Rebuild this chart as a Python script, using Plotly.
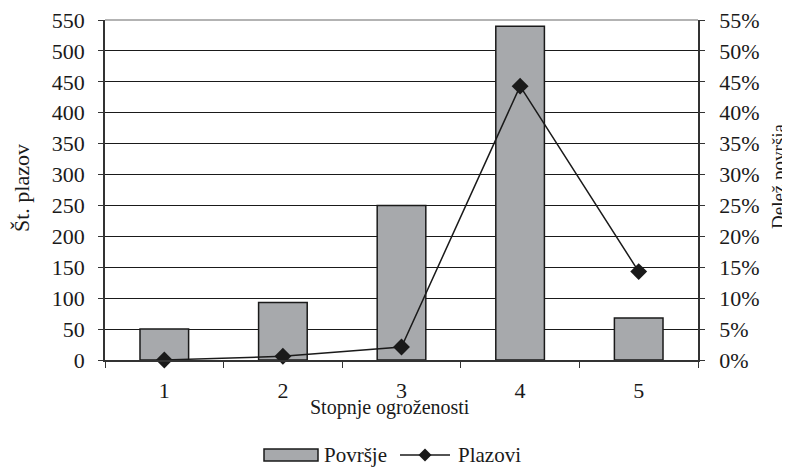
import plotly.graph_objects as go

categories = ["1", "2", "3", "4", "5"]
povrsje = [50, 93, 250, 540, 68]
plazovi = [0.0, 0.006, 0.021, 0.443, 0.143]
left_ticks = list(range(0, 551, 50))
right_ticks = [v / 100 for v in range(0, 56, 5)]

FONT = "Liberation Serif"
INK = "#1a1a1a"
BAR = "#A7A9AC"
OFF = 8  # the page body has an 8px margin; work in reference pixel coordinates
W, H = 790 - OFF, 467 - OFF
L, R, T, B = 105 - OFF, 92, 20 - OFF, 107
pw = W - L - R
ph = H - T - B

def px_x(x):
    return (x - OFF - L) / pw

def px_y(y):
    return (H - B - (y - OFF)) / ph

fig = go.Figure()
fig.add_trace(go.Bar(
    x=categories, y=povrsje, name="Površje",
    marker=dict(color=BAR, line=dict(color=INK, width=1.5)),
    width=0.41, yaxis="y",
))
fig.add_trace(go.Scatter(
    x=categories, y=plazovi, name="Plazovi", mode="lines+markers",
    line=dict(color=INK, width=1.5),
    marker=dict(symbol="diamond", size=13, color=INK),
    yaxis="y2", cliponaxis=False,
))

tickfont = dict(family=FONT, size=22, color=INK)
fig.update_layout(
    width=W, height=H,
    margin=dict(l=L, r=R, t=T, b=B, autoexpand=False),
    paper_bgcolor="white", plot_bgcolor="white",
    font=dict(family=FONT, size=20, color=INK),
    showlegend=False,
    xaxis=dict(type="category", showline=True, linecolor="#333", linewidth=1.5,
               ticks="outside", tickson="boundaries", ticklen=6, tickcolor="#333",
               showgrid=False, ticklabelstandoff=10, range=[-0.5, 4.5],
               tickfont=tickfont, automargin=False, ticklabeloverflow="allow"),
    yaxis=dict(range=[0, 550], tickvals=left_ticks, showline=True, linecolor="#333",
               linewidth=1.5, ticks="outside", ticklen=5, tickcolor="#333",
               showgrid=True, gridcolor=INK, gridwidth=1, zeroline=False,
               ticklabelstandoff=9, tickfont=tickfont, automargin=False,
               ticklabeloverflow="allow"),
    yaxis2=dict(range=[0, 0.55], tickvals=right_ticks, tickformat=".0%", overlaying="y",
                side="right", showline=True, linecolor="#333", linewidth=1.5,
                ticks="outside", ticklen=5, tickcolor="#333", showgrid=False,
                zeroline=False, ticklabelstandoff=10, tickfont=tickfont, automargin=False,
                ticklabeloverflow="allow"),
)

# top border of plot area
fig.add_shape(type="line", xref="paper", yref="paper", x0=0, x1=1, y0=1, y1=1,
              line=dict(color="#9a9a9a", width=1.5))

# axis titles
fig.add_annotation(text="Stopnje ogroženosti", xref="paper", yref="paper",
                   x=px_x(390), y=px_y(407), xanchor="center", yanchor="middle",
                   showarrow=False, font=dict(size=20))
fig.add_annotation(text="Št. plazov", xref="paper", yref="paper",
                   x=px_x(21), y=px_y(188), xanchor="center", yanchor="middle",
                   textangle=-90, showarrow=False, font=dict(size=22))
fig.add_annotation(text="Delež površja", xref="paper", yref="paper",
                   x=px_x(778), y=px_y(176), xanchor="center", yanchor="middle",
                   textangle=-90, showarrow=False, font=dict(size=19))

# legend (drawn in paper space)
ly = px_y(455)
fig.add_shape(type="rect", xref="paper", yref="paper",
              x0=px_x(264), x1=px_x(318), y0=px_y(461), y1=px_y(449),
              fillcolor=BAR, line=dict(color=INK, width=1.5))
fig.add_annotation(text="Površje", xref="paper", yref="paper", x=px_x(322), y=ly,
                   xanchor="left", yanchor="middle", showarrow=False, font=dict(size=21))
fig.add_shape(type="line", xref="paper", yref="paper",
              x0=px_x(400), x1=px_x(450), y0=ly, y1=ly, line=dict(color=INK, width=1.5))
cx, cy, d = 425, 455, 6.5
fig.add_shape(type="path", xref="paper", yref="paper",
              path=f"M {px_x(cx-d)} {px_y(cy)} L {px_x(cx)} {px_y(cy-d)} L {px_x(cx+d)} {px_y(cy)} L {px_x(cx)} {px_y(cy+d)} Z",
              fillcolor=INK, line=dict(color=INK, width=0))
fig.add_annotation(text="Plazovi", xref="paper", yref="paper", x=px_x(456), y=ly,
                   xanchor="left", yanchor="middle", showarrow=False, font=dict(size=21))

fig.write_html("out.html")
